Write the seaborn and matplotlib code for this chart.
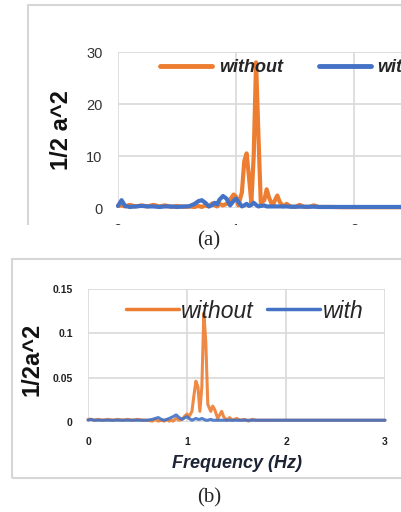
import pandas as pd
import matplotlib
matplotlib.use("Agg")
import matplotlib.pyplot as plt
from matplotlib.patches import Rectangle
from matplotlib.lines import Line2D
import seaborn as sns

# frequency grid (Hz) shared by both spectra
freq = [0, 0.03, 0.06, 0.1, 0.15, 0.2, 0.25, 0.3, 0.35, 0.4, 0.45, 0.5, 0.55, 0.6,
        0.65, 0.68, 0.71, 0.74, 0.77, 0.8, 0.82, 0.84, 0.86, 0.89, 0.92, 0.95, 0.98, 1.0,
        1.02, 1.05, 1.07, 1.09, 1.11, 1.13, 1.15, 1.17, 1.19, 1.21,
        1.24, 1.26, 1.28, 1.31, 1.33, 1.35, 1.37, 1.4,
        1.43, 1.46, 1.5, 1.54, 1.58, 1.62, 1.66, 1.7,
        1.8, 1.9, 2.0, 2.2, 2.4, 2.6, 2.8, 3.0]

# (a) spectrum
without_a = [0.4, 0.5, 0.3, 0.6, 0.3, 0.5, 0.3, 0.6, 0.3, 0.5, 0.2, 0.4, 0.2, 0.3,
             0.2, 0.4, 0.2, 0.5, 0.3, 0.9, 0.5, 0.3, 0.8, 0.5, 0.8, 1.6, 2.6, 2.2,
             0.5, 3.0, 9.0, 10.5, 6.0, 1.0, 10.0, 28.0, 14.0, 1.0,
             1.5, 3.6, 2.0, 0.4, 1.5, 2.4, 1.2, 0.3,
             0.8, 0.3, 0.2, 0.6, 0.2, 0.2, 0.5, 0.2,
             0.2, 0.15, 0.15, 0.15, 0.15, 0.15, 0.15, 0.15]
with_a = [0.4, 1.5, 0.4, 0.2, 0.3, 0.4, 0.3, 0.3, 0.2, 0.3, 0.3, 0.2, 0.3, 0.3,
          0.8, 1.3, 1.5, 1.0, 0.3, 0.6, 1.0, 0.7, 1.6, 2.3, 1.8, 0.5, 1.4, 1.8,
          1.2, 0.3, 0.5, 0.8, 0.4, 0.6, 1.0, 0.6, 0.3, 0.4,
          0.5, 0.3, 0.3, 0.3, 0.3, 0.3, 0.3, 0.3,
          0.3, 0.25, 0.25, 0.25, 0.25, 0.25, 0.25, 0.2,
          0.2, 0.2, 0.2, 0.2, 0.2, 0.2, 0.2, 0.2]

# (b) spectrum
without_b = [0.003, 0.003, 0.002, 0.003, 0.002, 0.003, 0.002, 0.003, 0.002, 0.003, 0.002, 0.003, 0.002, 0.002,
             0.001, 0.003, 0.001, 0.002, 0.001, 0.003, 0.001, 0.002, 0.001, 0.004, 0.002, 0.003, 0.007, 0.009,
             0.006, 0.012, 0.03, 0.046, 0.04, 0.012, 0.04, 0.123, 0.09, 0.02,
             0.012, 0.018, 0.014, 0.004, 0.008, 0.012, 0.006, 0.002,
             0.005, 0.002, 0.004, 0.002, 0.003, 0.001, 0.003, 0.002,
             0.002, 0.002, 0.002, 0.002, 0.002, 0.002, 0.002, 0.002]
with_b = [0.002, 0.003, 0.002, 0.002, 0.002, 0.002, 0.002, 0.002, 0.002, 0.002, 0.002, 0.002, 0.002, 0.002,
          0.003, 0.004, 0.005, 0.003, 0.002, 0.003, 0.004, 0.005, 0.006, 0.008, 0.005, 0.003, 0.005, 0.006,
          0.004, 0.002, 0.003, 0.004, 0.003, 0.003, 0.004, 0.003, 0.002, 0.002,
          0.003, 0.002, 0.002, 0.002, 0.002, 0.002, 0.002, 0.002,
          0.002, 0.002, 0.002, 0.002, 0.002, 0.002, 0.002, 0.002,
          0.002, 0.002, 0.002, 0.002, 0.002, 0.002, 0.002, 0.002]

series = ["without", "with"]
colors = {"without": "#ED7D31", "with": "#4472C4"}


def long_df(without, with_):
    return pd.DataFrame({
        "freq": freq + freq,
        "value": without + with_,
        "series": ["without"] * len(freq) + ["with"] * len(freq),
    })


sns.set_theme(style="whitegrid")
plt.rcParams["font.family"] = ["Liberation Sans", "DejaVu Sans"]

W, H = 401, 512
fig = plt.figure(figsize=(W / 100, H / 100), dpi=100)


def px_axes(left, top, right, bottom):
    return fig.add_axes([left / W, 1 - bottom / H, (right - left) / W, (bottom - top) / H])


def style_axes(ax):
    for s in ax.spines.values():
        s.set_visible(False)
    ax.grid(True, color="#d9d9d9", linewidth=1.2)
    ax.tick_params(length=0)


# ---- panel (a) ----
ax1 = px_axes(118, 52, 472, 208)
sns.lineplot(data=long_df(without_a, with_a), x="freq", y="value", hue="series",
             hue_order=series, palette=colors, linewidth=3.0, legend=False, ax=ax1)
for ln in ax1.lines:
    ln.set_clip_on(False)
ax1.set_xlim(0, 3)
ax1.set_ylim(0, 30)
ax1.set_xticks([0, 1, 2, 3])
ax1.set_yticks([0, 10, 20, 30])
style_axes(ax1)
ax1.tick_params(axis="y", labelsize=10.5, labelcolor="#333333", pad=11)
ax1.tick_params(axis="x", labelsize=10.5, labelcolor="#333333", pad=11)
ax1.set_xlabel("")
ax1.set_ylabel("1/2 a^2", fontsize=17, fontweight="bold", color="#111111")
ax1.yaxis.set_label_coords(-(118 - 73) / 354, 0.5)

handles = [Line2D([], [], color=colors[s], linewidth=3.5) for s in series]
ax1.legend(handles, series, ncol=2, loc="center left", bbox_to_anchor=(160 / W, 1 - 68 / H),
           bbox_transform=fig.transFigure, frameon=False, borderpad=0, borderaxespad=0,
           handlelength=2.9, handletextpad=0.35, columnspacing=2.0,
           prop={"size": 13, "weight": "bold", "style": "italic"})

# ---- panel (b) ----
ax2 = px_axes(88, 289, 385, 422)
sns.lineplot(data=long_df(without_b, with_b), x="freq", y="value", hue="series",
             hue_order=series, palette=colors, linewidth=2.2, legend=False, ax=ax2)
for ln in ax2.lines:
    ln.set_clip_on(False)
    ln.set_alpha(0.9)
ax2.set_xlim(0, 3)
ax2.set_ylim(0, 0.15)
ax2.set_xticks([0, 1, 2, 3])
ax2.set_yticks([0, 0.05, 0.1, 0.15])
ax2.set_yticklabels(["0", "0.05", "0.1", "0.15"])
style_axes(ax2)
ax2.tick_params(axis="both", labelsize=7.5, labelcolor="#222222", pad=11)
for t in ax2.get_xticklabels() + ax2.get_yticklabels():
    t.set_fontweight("bold")
ax2.set_xlabel("Frequency (Hz)", fontsize=13, fontweight="bold", style="italic", color="#1c2333")
ax2.xaxis.set_label_coords((237 - 88) / 297, -(455 - 422) / 133)
ax2.set_ylabel("1/2a^2", fontsize=17, fontweight="bold", color="#111111")
ax2.yaxis.set_label_coords(-(88 - 44) / 297, 0.47)

handles = [Line2D([], [], color=colors[s], linewidth=2.5) for s in series]
ax2.legend(handles, series, ncol=2, loc="center left", bbox_to_anchor=(126 / W, 1 - 311 / H),
           bbox_transform=fig.transFigure, frameon=False, borderpad=0, borderaxespad=0,
           handlelength=2.3, handletextpad=0.1, columnspacing=0.6,
           prop={"size": 16.5, "style": "italic"})

# ---- frames, crop and captions ----
fig.add_artist(Rectangle((28 / W, 1 - 240 / H), (430 - 28) / W, (240 - 5) / H,
                         transform=fig.transFigure, fill=False, edgecolor="#d6d6d6", linewidth=1.5, zorder=5))
fig.add_artist(Rectangle((0, 1 - 256 / H), 1, (256 - 225) / H, transform=fig.transFigure,
                         facecolor="white", edgecolor="none", zorder=10))
fig.add_artist(Rectangle((12 / W, 1 - 478 / H), (430 - 12) / W, (478 - 259) / H,
                         transform=fig.transFigure, fill=False, edgecolor="#d6d6d6", linewidth=1.5, zorder=5))
fig.text(209 / W, 1 - 241 / H, "(a)", ha="center", va="center", fontsize=15,
         family=["Liberation Serif", "DejaVu Serif"], zorder=11)
fig.text(209 / W, 1 - 498 / H, "(b)", ha="center", va="center", fontsize=15,
         family=["Liberation Serif", "DejaVu Serif"], zorder=11)

fig.savefig("out.png", dpi=100)
